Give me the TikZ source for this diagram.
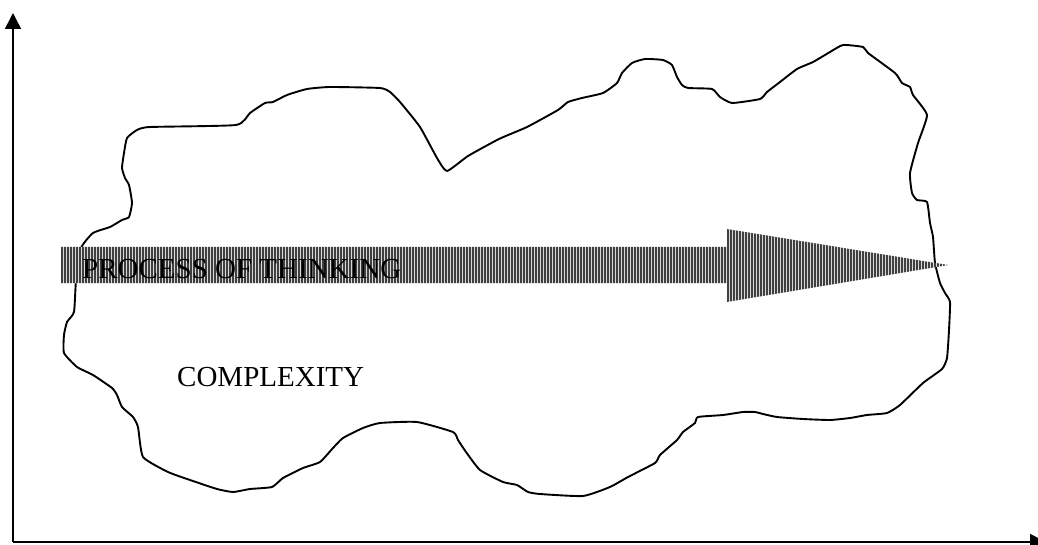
\documentclass[tikz,border=0pt]{standalone}
\usepackage{fontspec}
\setmainfont{Liberation Serif}
\usetikzlibrary{arrows.meta}
\tikzset{
  axisline/.style={line width=1.5pt, -{Triangle[length=16pt,width=16pt]}},
  cloudline/.style={line width=1.9pt, line join=round},
  stripe/.style={line width=1.5pt, draw=black!75},
  label/.style={font=\fontsize{29}{34}\selectfont, inner sep=0pt, anchor=base west}
}
\begin{document}
\begin{tikzpicture}[x=1pt,y=-1pt]
\useasboundingbox (0,0) rectangle (1038,545);
% axes
\coordinate (origin) at (13,542);
\coordinate (ytip) at (13,13);
\coordinate (xtip) at (1046,542);
\draw[axisline] (origin) -- (ytip);
\draw[axisline] (origin) -- (xtip);
% cloud
\draw[cloudline] plot[smooth cycle, tension=0.3] coordinates {
(81,248) (93,233) (110,227) (122,220) (129,217) (132,203) (129,185) (125,178)
(122,168) (124,153) (127,138) (137,130) (150,127) (236,125) (250,113) (265,103)
(273,102) (287,95) (307,89) (330,87) (380,88) (390,92) (400,102) (420,127)
(437,158) (447,171) (468,156) (499,139) (527,127) (558,110) (568,102) (582,98)
(603,93) (617,83) (622,73) (632,63) (645,59) (663,60) (672,65) (677,77)
(682,85) (688,88) (712,89) (720,97) (732,103) (760,99) (767,92) (780,82)
(797,69) (813,62) (830,52) (843,45) (863,47) (868,53) (895,73) (902,83)
(910,87) (913,95) (927,115) (918,143) (910,173) (912,193) (917,200) (927,202)
(930,223) (933,237) (935,263) (940,283) (945,293) (950,302) (949,330) (947,358)
(942,369) (923,383) (900,405) (887,413) (867,415) (850,418) (830,420) (803,419)
(777,417) (763,414) (755,412) (743,412) (723,415) (698,417) (695,423) (683,432)
(677,440) (660,455) (655,463) (628,477) (610,487) (583,496) (540,494) (528,492)
(517,485) (503,482) (480,470) (466,452) (458,440) (453,432) (417,422) (380,423)
(363,428) (343,438) (333,448) (320,462) (303,468) (283,478) (272,487) (250,489)
(233,492) (217,489) (190,480) (168,472) (143,457) (138,427) (133,417) (122,407)
(117,395) (112,388) (93,375) (77,367) (64,353) (64,335) (67,322) (74,312)
(76,280)
};
% striped arrow
\path[fill=gray!30] (61,247) -- (727,247) -- (727,229) -- (948,265) -- (727,302) -- (727,283) -- (61,283) -- cycle;
\begin{scope}
\clip (61,247) -- (727,247) -- (727,229) -- (948,265) -- (727,302) -- (727,283) -- (61,283) -- cycle;
\foreach \x in {62,65,...,950} { \draw[stripe] (\x,225) -- (\x,305); }
\end{scope}
\node[label] (think) at (82,278) {PROCESS OF THINKING};
\node[label] (complex) at (177,386) {COMPLEXITY};
\end{tikzpicture}
\end{document}
